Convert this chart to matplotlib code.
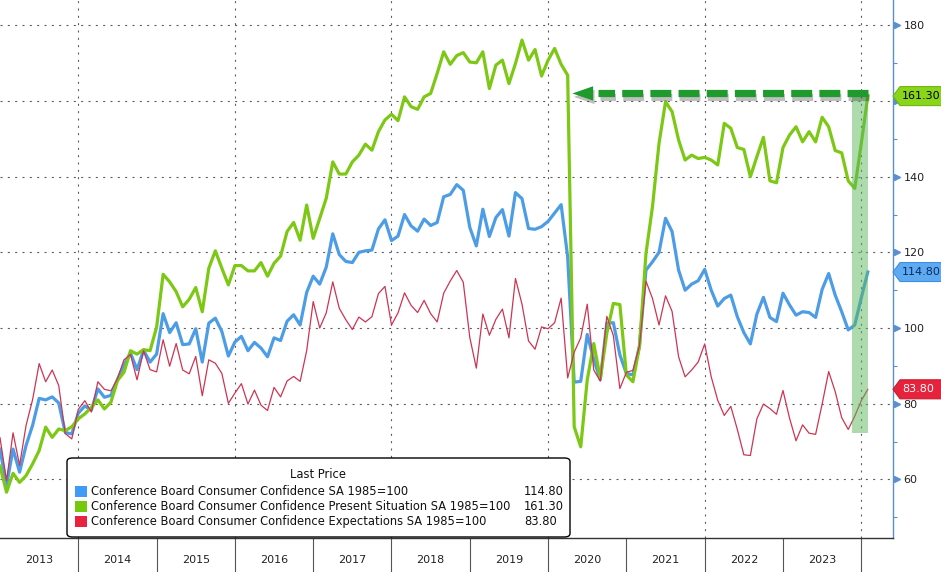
import numpy as np
import pandas as pd
import matplotlib
matplotlib.use("Agg")
import matplotlib.pyplot as plt
from matplotlib.patches import FancyBboxPatch, Polygon, Rectangle
import matplotlib.patheffects as pe

# Conference Board consumer confidence, monthly Dec 2012 .. Jan 2024
months = pd.period_range("2012-12", "2024-01", freq="M")

confidence = [68.0,
    58.4, 68.0, 61.9, 69.0, 74.3, 81.4, 81.0, 81.8, 80.2, 72.4, 72.0, 77.5,
    79.4, 78.3, 83.9, 81.7, 82.2, 86.4, 90.3, 93.4, 89.0, 94.1, 91.0, 93.1,
    103.8, 98.8, 101.4, 95.6, 95.8, 99.8, 91.0, 101.3, 102.6, 99.1, 92.6, 96.3,
    97.8, 94.0, 96.2, 94.7, 92.4, 97.4, 96.7, 101.8, 103.5, 100.8, 109.4, 113.7,
    111.6, 116.1, 124.9, 119.4, 117.6, 117.3, 120.0, 120.4, 120.6, 126.2, 128.6, 123.1,
    124.3, 130.0, 127.0, 125.6, 128.8, 127.1, 127.9, 134.7, 135.3, 137.9, 136.4, 126.6,
    121.7, 131.4, 124.2, 129.2, 131.3, 124.3, 135.8, 134.2, 126.3, 126.1, 126.8, 128.2,
    130.4, 132.6, 118.8, 85.7, 85.9, 98.3, 91.7, 86.3, 101.3, 101.4, 92.9, 88.0,
    87.6, 95.2, 115.3, 117.5, 120.0, 129.0, 125.5, 115.3, 110.0, 111.6, 112.5, 115.5,
    110.0, 105.8, 107.8, 108.7, 103.0, 98.8, 95.8, 103.7, 108.1, 102.8, 101.7, 109.2,
    106.1, 103.4, 104.3, 104.1, 102.8, 110.2, 114.4, 108.7, 104.3, 99.5, 100.8, 108.0,
    114.8]

present = [63.5,
    56.6, 61.6, 59.2, 61.0, 64.1, 67.6, 73.8, 71.1, 73.3, 72.9, 73.9, 76.0,
    77.3, 79.0, 81.0, 78.6, 80.4, 86.1, 88.3, 94.0, 93.1, 94.3, 94.0, 100.2,
    114.2, 112.2, 109.6, 105.6, 107.6, 110.7, 104.3, 115.8, 120.4, 115.8, 111.4, 116.5,
    116.5, 115.1, 115.1, 117.3, 113.7, 117.1, 119.0, 125.5, 127.9, 123.2, 132.5, 123.7,
    129.0, 134.3, 143.9, 140.7, 140.7, 143.9, 145.7, 148.6, 147.0, 151.9, 155.0, 156.5,
    154.8, 161.1, 158.5, 157.8, 161.1, 162.0, 167.3, 173.0, 169.7, 172.0, 172.8, 170.3,
    170.1, 173.0, 163.3, 169.5, 170.8, 164.6, 169.9, 176.1, 170.8, 173.6, 166.6, 170.8,
    173.9, 169.7, 166.8, 73.9, 68.6, 86.3, 95.9, 86.7, 98.6, 106.5, 106.2, 87.6,
    85.8, 95.1, 119.7, 132.1, 148.8, 159.8, 157.2, 149.7, 144.4, 145.7, 144.8, 145.1,
    144.4, 143.1, 154.1, 152.8, 147.7, 147.2, 140.0, 145.3, 150.4, 138.9, 138.4, 147.7,
    151.0, 153.2, 149.2, 151.9, 149.2, 155.7, 153.2, 146.9, 146.3, 138.9, 136.9, 148.8,
    161.3]

expectations = [71.0,
    59.6, 72.3, 63.7, 74.3, 81.1, 90.6, 85.8, 88.9, 84.8, 72.1, 70.7, 78.5,
    80.8, 77.8, 85.8, 83.8, 83.4, 86.6, 91.6, 93.0, 86.3, 94.0, 89.0, 88.4,
    96.9, 89.9, 95.9, 88.9, 87.9, 92.5, 82.1, 91.6, 90.7, 88.0, 80.1, 82.8,
    85.3, 79.9, 83.6, 79.6, 78.2, 84.3, 81.8, 86.0, 87.2, 85.9, 94.0, 107.0,
    100.0, 104.0, 112.2, 105.2, 102.2, 99.6, 102.9, 101.6, 103.0, 109.1, 111.0, 100.8,
    104.0, 109.3, 106.0, 104.1, 107.3, 103.8, 101.6, 109.2, 112.4, 115.2, 112.1, 97.5,
    89.4, 103.7, 98.1, 102.3, 105.0, 97.4, 113.1, 106.3, 96.6, 94.4, 100.3, 99.8,
    101.4, 107.9, 86.8, 93.6, 97.4, 106.3, 88.9, 86.0, 103.1, 98.0, 84.0, 88.3,
    88.8, 95.3, 112.4, 107.8, 100.8, 108.5, 104.4, 92.4, 87.1, 88.9, 91.0, 95.8,
    87.1, 80.9, 76.9, 79.3, 73.2, 66.5, 66.3, 76.0, 79.9, 78.7, 77.2, 83.5,
    76.2, 70.2, 74.4, 72.2, 71.9, 79.9, 88.5, 83.2, 76.3, 73.2, 76.7, 80.8,
    83.8]

series_names = [
    "Conference Board Consumer Confidence SA 1985=100",
    "Conference Board Consumer Confidence Present Situation SA 1985=100",
    "Conference Board Consumer Confidence Expectations SA 1985=100",
]
years = list(range(2013, 2024))
y_ticks = [60, 80, 100, 120, 140, 160, 180]
# 160 sits under the last-value tag in the original, so it has no visible label
y_labels = ["60", "80", "100", "120", "140", "", "180"]

BLUE = "#4d9de6"
GREEN = "#7cc814"
RED = "#cc3553"
DKGREEN = "#1f9a2c"
AXBLUE = "#5b8fd0"

W, H = 941, 572
fig = plt.figure(figsize=(W / 100, H / 100), dpi=100)
ax = fig.add_axes([0, 1 - 538 / H, 893 / W, 538 / H])

x = np.array([p.year + p.month / 12 for p in months])

ax.set_xlim(2013.0, 2024.405)
ax.set_ylim(44.5, 186.7)

# dotted grid
grid_ls = (0, (1.8, 4.8))
for v in y_ticks:
    ax.axhline(v, color="#5a5a5a", lw=0.8, ls=grid_ls, zorder=1)
for yr in range(2014, 2025, 2):
    ax.axvline(yr, color="#5a5a5a", lw=0.8, ls=grid_ls, zorder=1)

ax.plot(x, confidence, color=BLUE, lw=2.3, zorder=3)
ax.plot(x, present, color=GREEN, lw=2.3, zorder=3)
ax.plot(x, expectations, color=RED, lw=0.9, zorder=3)

# highlight of the last months
x0 = x[-3] - 0.03
ax.add_patch(Rectangle((x0, 72.3), x[-1] - x0, 90.0, fc="#5cb85c", ec="none",
                       alpha=0.5, zorder=3.5))

# dashed arrow back to the pre-covid level
arrow_y = 162.0
tip = 2020.31
ax.plot([x[-1], tip + 0.33], [arrow_y, arrow_y], color=DKGREEN, lw=5.2,
        ls=(0, (2.9, 1.0)), dash_capstyle="butt", zorder=6,
        path_effects=[pe.SimpleLineShadow(offset=(1, -2.5), shadow_color="black", alpha=0.25),
                      pe.Normal()])
head = Polygon([(tip, arrow_y), (tip + 0.265, arrow_y + 1.9), (tip + 0.265, arrow_y - 1.9)],
               closed=True, fc=DKGREEN, ec="none", zorder=6,
               path_effects=[pe.SimplePatchShadow(offset=(1, -2.5), shadow_rgbFace="black", alpha=0.25),
                             pe.Normal()])
ax.add_patch(head)

# axes styling
for side in ["left", "top"]:
    ax.spines[side].set_visible(False)
ax.spines["right"].set_color(AXBLUE)
ax.spines["right"].set_linewidth(1.0)
ax.spines["bottom"].set_color("#333333")
ax.spines["bottom"].set_linewidth(1.0)

ax.yaxis.tick_right()
ax.set_yticks(y_ticks)
ax.set_yticklabels(y_labels)
ax.set_yticks(range(50, 180, 20), minor=True)
ax.tick_params(axis="y", which="major", length=0, pad=7.5, labelsize=8, labelcolor="#222222")
ax.tick_params(axis="y", which="minor", direction="out", length=3, width=0.8, color=AXBLUE)
ax.plot(np.full(len(y_ticks), 1.0045), y_ticks, ls="none", marker=">", ms=5,
        color=AXBLUE, transform=ax.get_yaxis_transform(), clip_on=False, zorder=5)

ax.set_xticks([yr + 0.5 for yr in years])
ax.set_xticklabels([str(yr) for yr in years])
ax.set_xticks(range(2014, 2025), minor=True)
ax.tick_params(axis="x", which="major", length=0, pad=12.5, labelsize=8, labelcolor="#222222")
ax.tick_params(axis="x", which="minor", direction="out", length=25, width=0.8, color="#555555")


def px(xp, yp):
    return xp / W, 1 - yp / H


# last value tags on the right
tags = [(present[-1], "#8ad41c", "#6cb80c", "black"),
        (confidence[-1], "#5eaaf2", "#3d8fe0", "#0b2a5e"),
        (expectations[-1], "#e6223c", "#c81a30", "white")]
for val, fc, ec, tc in tags:
    yd = ax.transData.transform((2020, val))[1]
    yp = H - yd
    verts = [px(893, yp), px(900, yp - 9.5), px(943, yp - 9.5), px(943, yp + 9.5), px(900, yp + 9.5)]
    fig.add_artist(Polygon(verts, closed=True, fc=fc, ec=ec, lw=0.8,
                           transform=fig.transFigure, zorder=5))
    fig.text(902 / W, 1 - yp / H, f"{val:.2f}", ha="left", va="center",
             fontsize=8, color=tc, zorder=6)

# legend box
lx0, ly0 = px(67, 537)
lx1, ly1 = px(570, 458)
fig.add_artist(FancyBboxPatch((lx0, ly0), lx1 - lx0, ly1 - ly0,
                              boxstyle="round,pad=0,rounding_size=0.006",
                              fc="white", ec="black", lw=1.0,
                              transform=fig.transFigure, zorder=4))
fig.text(*px(318, 475), "Last Price", ha="center", va="center", fontsize=8.3,
         color="#111111", zorder=6)
last_vals = [confidence[-1], present[-1], expectations[-1]]
colors = ["#3f9bf5", "#74c80d", "#e8233f"]
for i, (name, val, c) in enumerate(zip(series_names, last_vals, colors)):
    yrow = 491.5 + 15 * i
    sx, sy = px(75, yrow + 5.5)
    fig.add_artist(Rectangle((sx, sy), 11.5 / W, 11 / H, fc=c, ec="none",
                             transform=fig.transFigure, zorder=5))
    fig.text(*px(91, yrow), name, ha="left", va="center", fontsize=8.3,
             color="#111111", zorder=6)
    fig.text(*px(524, yrow), f"{val:.2f}", ha="left", va="center", fontsize=8.3,
             color="#111111", zorder=6)

fig.savefig("out.png", dpi=100, facecolor="white")
